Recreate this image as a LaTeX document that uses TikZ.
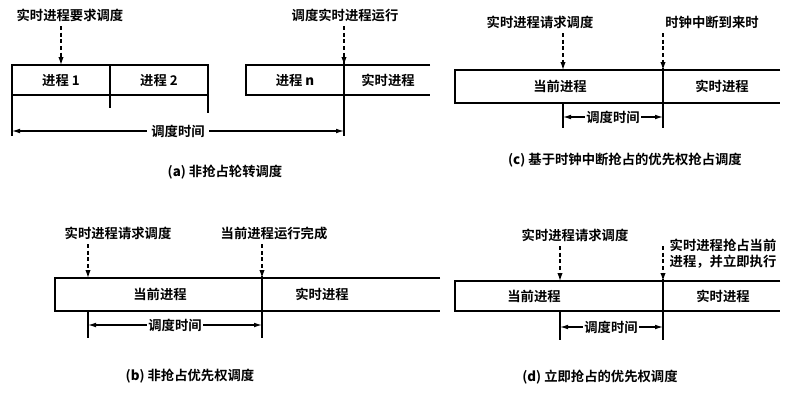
\documentclass[tikz,border=0pt]{standalone}
\usepackage{fontspec}
\setmainfont{Noto Sans CJK SC}[BoldFont={Noto Sans CJK SC Bold}]
\usetikzlibrary{arrows.meta}
\begin{document}
\begin{tikzpicture}[x=0.75pt,y=-0.75pt,
  lbl/.style={font=\fontsize{10pt}{12pt}\selectfont\bfseries},
  captxt/.style={font=\fontsize{10pt}{12pt}\selectfont\bfseries},
  box/.style={line width=1.2pt},
  ln/.style={line width=0.9pt},
  dsh/.style={densely dashed,line width=0.9pt,-{Latex[length=6pt,width=4pt]}},
  dim/.style={line width=0.8pt,-{Latex[length=6pt,width=3.5pt]}}]
\useasboundingbox (0,0) rectangle (809,400);
% (a)
\node[lbl] (a1) at (70,15) {实时进程要求调度};
\node[lbl] (a2) at (345,15) {调度实时进程运行};
\coordinate (a1t) at (61,65); \coordinate (a2t) at (344,65);
\draw[dsh] (a1t |- a1.south) -- (a1t);
\draw[dsh] (a2t |- a2.south) -- (a2t);
\draw[box] (12,65) rectangle (208,95);
\node[lbl] (ap1) at (61,80) {进程 1};
\node[lbl] (ap2) at (159,80) {进程 2};
\draw[box] (110,65) -- (110,108);
\draw[box] (208,95) -- (208,113);
\draw[box] (430,65) -- (246,65) -- (246,95) -- (430,95);
\draw[box] (344,60) -- (344,136);
\node[lbl] (apn) at (295,80) {进程 \textit{n}};
\node[lbl] (apr) at (388,80) {实时进程};
\draw[ln] (12,95) -- (12,136);
\node[lbl,fill=white] (at) at (178,131) {调度时间};
\draw[dim] (at.west) -- (12,131);
\draw[dim] (at.east) -- (344,131);
\node[captxt] (ca) at (225,172) {(\textit{a}) 非抢占轮转调度};
% (c)
\node[lbl] (c1) at (540,22) {实时进程请求调度};
\node[lbl] (c2) at (712,22) {时钟中断到来时};
\coordinate (c1t) at (563,70); \coordinate (c2t) at (663,70);
\draw[dsh] (c1t |- c1.south) -- (c1t);
\draw[dsh] (c2t |- c2.south) -- (c2t);
\draw[box] (780,70) -- (455,70) -- (455,103) -- (780,103);
\draw[box] (663,68) -- (663,128);
\draw[ln] (563,103) -- (563,128);
\node[lbl] (cp) at (560,86) {当前进程};
\node[lbl] (cr) at (722,86) {实时进程};
\node[lbl,fill=white,inner xsep=1pt] (ct) at (613,117) {调度时间};
\draw[dim] (ct.west) -- (563,117); \draw[dim] (ct.east) -- (663,117);
\node[captxt] (cc) at (625,160) {(\textit{c}) 基于时钟中断抢占的优先权抢占调度};
% (b)
\node[lbl] (b1) at (118,233) {实时进程请求调度};
\node[lbl] (b2) at (274,233) {当前进程运行完成};
\coordinate (b1t) at (88,278); \coordinate (b2t) at (262,278);
\draw[dsh] (b1t |- b1.south) -- (b1t);
\draw[dsh] (b2t |- b2.south) -- (b2t);
\draw[box] (440,278) -- (55,278) -- (55,311) -- (440,311);
\draw[box] (262,276) -- (262,338);
\draw[ln] (88,311) -- (88,338);
\node[lbl] (bp) at (160,294) {当前进程};
\node[lbl] (br) at (322,294) {实时进程};
\node[lbl,fill=white,inner xsep=1pt] (bt) at (175,325) {调度时间};
\draw[dim] (bt.west) -- (88,325); \draw[dim] (bt.east) -- (262,325);
\node[captxt] (cb) at (190,376) {(\textit{b}) 非抢占优先权调度};
% (d)
\node[lbl] (d1) at (575,235) {实时进程请求调度};
\node[lbl,anchor=west,align=left] (d2) at (665,254) {实时进程抢占当前\\进程，并立即执行};
\coordinate (d1t) at (560,281); \coordinate (d2t) at (663,281);
\draw[dsh] (d1t |- d1.south) -- (d1t);
\draw[dsh] (663,246) -- (d2t);
\draw[box] (780,281) -- (455,281) -- (455,311) -- (780,311);
\draw[box] (663,279) -- (663,340);
\draw[ln] (560,311) -- (560,340);
\node[lbl] (dp) at (534,296) {当前进程};
\node[lbl] (dr) at (723,296) {实时进程};
\node[lbl,fill=white,inner xsep=1pt] (dt) at (611,327) {调度时间};
\draw[dim] (dt.west) -- (560,327); \draw[dim] (dt.east) -- (663,327);
\node[captxt] (cd) at (600,377) {(\textit{d}) 立即抢占的优先权调度};
\end{tikzpicture}
\end{document}
